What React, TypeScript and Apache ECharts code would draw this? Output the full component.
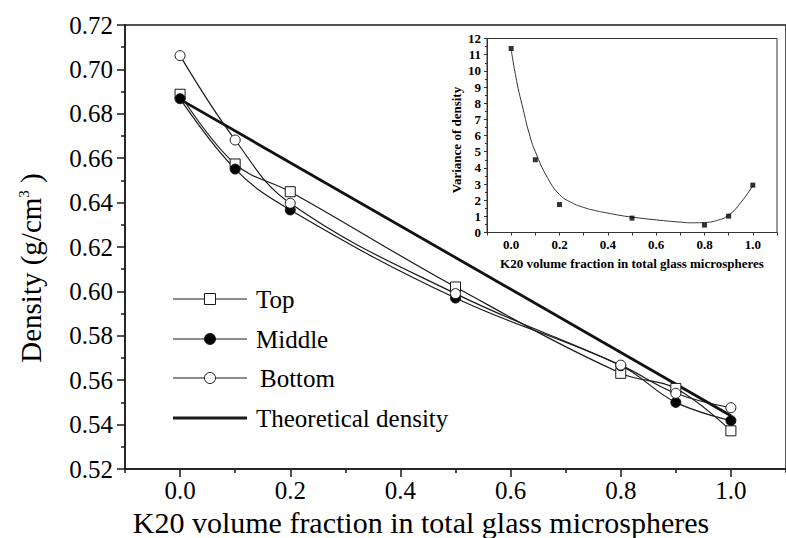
import React, { useEffect, useRef } from "react";
import * as echarts from "echarts";

// ---- Main chart data ----
const fractions = [0, 0.1, 0.2, 0.5, 0.8, 0.9, 1.0];
const topDensity = [0.6888, 0.6574, 0.6449, 0.602, 0.5631, 0.5563, 0.5372];
const middleDensity = [0.6868, 0.6551, 0.6367, 0.597, 0.5665, 0.55, 0.5418];
const bottomDensity = [0.7062, 0.6682, 0.6397, 0.599, 0.5668, 0.5541, 0.5476];
const theoFractions = [0, 1.0];
const theoDensity = [0.6865, 0.544];

const mainXLabels = [0, 0.2, 0.4, 0.6, 0.8, 1.0];
const mainXMinorTicks = [-0.1, 0.1, 0.3, 0.5, 0.7, 0.9, 1.1];

// ---- Inset data ----
const varFractions = [0, 0.1, 0.2, 0.5, 0.8, 0.9, 1.0];
const varValues = [11.38, 4.5, 1.73, 0.89, 0.46, 1.01, 2.93];
const fitFractions = [0, 0.025, 0.05, 0.075, 0.1, 0.15, 0.2, 0.25, 0.3, 0.35, 0.4, 0.45, 0.5, 0.6, 0.7, 0.75, 0.8, 0.85, 0.9, 0.95, 1.0];
const fitValues = [11.3, 9.2, 7.6, 6.1, 5.0, 3.4, 2.35, 1.85, 1.55, 1.35, 1.2, 1.06, 0.95, 0.78, 0.64, 0.6, 0.62, 0.74, 1.08, 1.85, 2.9];

const FONT = "Liberation Serif";
const INK = "#1a1a1a";

const pairs = (xs: number[], ys: number[]) => xs.map((x, i) => [x, ys[i]]);

export default function App() {
  const ref = useRef<HTMLDivElement>(null);

  useEffect(() => {
    if (!ref.current) return;
    const chart = echarts.init(ref.current, undefined, { renderer: "svg" });

    const lineBase = { color: INK, width: 1.2 };

    const legendItems = [
      { name: "Top", y: 299, symbol: "rect", fill: "#fff", tx: 256 },
      { name: "Middle", y: 339, symbol: "circle", fill: "#000", tx: 256 },
      { name: "Bottom", y: 378, symbol: "circle", fill: "#fff", tx: 260 },
      { name: "Theoretical density", y: 418, symbol: "none", fill: "", tx: 256 },
    ];

    const graphics: any[] = [];
    legendItems.forEach((it) => {
      graphics.push({
        type: "line",
        shape: { x1: 173, y1: it.y, x2: 247, y2: it.y },
        style: { stroke: INK, lineWidth: it.symbol === "none" ? 3 : 1.2 },
        z: 10,
      });
      if (it.symbol === "rect") {
        graphics.push({
          type: "rect",
          shape: { x: 204.5, y: it.y - 5.5, width: 11, height: 11 },
          style: { fill: it.fill, stroke: INK, lineWidth: 1 },
          z: 11,
        });
      } else if (it.symbol === "circle") {
        graphics.push({
          type: "circle",
          shape: { cx: 210, cy: it.y, r: 5.5 },
          style: { fill: it.fill, stroke: INK, lineWidth: 1 },
          z: 11,
        });
      }
      graphics.push({
        type: "text",
        x: it.tx,
        y: it.y,
        style: {
          text: it.name,
          fontSize: 25,
          fontFamily: FONT,
          fill: "#000",
          verticalAlign: "middle",
          align: "left",
        },
        z: 11,
      });
    });

    // Y axis title (rotated)
    graphics.push({
      type: "text",
      x: 31,
      y: 268,
      rotation: Math.PI / 2,
      style: {
        text: "{a|Density (g/cm}{s|3}{a| )}",
        rich: {
          a: { fontSize: 29, fontFamily: FONT, fill: "#000", verticalAlign: "bottom" },
          s: { fontSize: 15, fontFamily: FONT, fill: "#000", verticalAlign: "top", padding: [0, 0, 14, 0] },
        },
        align: "center",
        verticalAlign: "middle",
      },
      z: 10,
    });

    // X axis title
    graphics.push({
      type: "text",
      x: 421,
      y: 522,
      style: {
        text: "K20 volume fraction in total glass microspheres",
        fontSize: 30,
        fontFamily: FONT,
        fill: "#000",
        align: "center",
        verticalAlign: "middle",
      },
      z: 10,
    });

    // Inset titles
    graphics.push({
      type: "text",
      x: 456,
      y: 140,
      rotation: Math.PI / 2,
      style: {
        text: "Variance of density",
        fontSize: 13,
        fontWeight: "bold",
        fontFamily: FONT,
        fill: "#000",
        align: "center",
        verticalAlign: "middle",
      },
      z: 20,
    });
    graphics.push({
      type: "text",
      x: 632,
      y: 263,
      style: {
        text: "K20 volume fraction in total glass microspheres",
        fontSize: 13,
        fontWeight: "bold",
        fontFamily: FONT,
        fill: "#000",
        align: "center",
        verticalAlign: "middle",
      },
      z: 20,
    });

    const option: any = {
      animation: false,
      backgroundColor: "#fff",
      textStyle: { fontFamily: FONT },
      grid: [
        {
          left: 125,
          top: 25,
          width: 668,
          height: 444,
          show: true,
          borderColor: INK,
          borderWidth: 1.5,
          backgroundColor: "transparent",
        },
        {
          left: 487,
          top: 38.5,
          width: 290,
          height: 194,
          show: true,
          borderColor: "#333",
          borderWidth: 1,
          backgroundColor: "#fff",
          z: 5,
        },
      ],
      xAxis: [
        {
          type: "value",
          gridIndex: 0,
          min: -0.1,
          max: 1.1,
          position: "bottom",
          splitLine: { show: false },
          axisLine: { onZero: false, lineStyle: { color: INK, width: 1.5 } },
          axisTick: { customValues: mainXLabels, length: 8, lineStyle: { color: INK, width: 1.5 } },
          axisLabel: {
            customValues: mainXLabels,
            formatter: (v: number) => v.toFixed(1),
            fontFamily: FONT,
            fontSize: 25,
            color: "#000",
            margin: 9,
          },
        },
        {
          type: "value",
          gridIndex: 0,
          min: -0.1,
          max: 1.1,
          position: "bottom",
          splitLine: { show: false },
          axisLine: { show: false, onZero: false },
          axisTick: { customValues: mainXMinorTicks, length: 4, lineStyle: { color: INK, width: 1.5 } },
          axisLabel: { show: false },
        },
        {
          type: "value",
          gridIndex: 1,
          min: -0.1,
          max: 1.1,
          interval: 0.1,
          position: "bottom",
          z: 6,
          splitLine: { show: false },
          axisLine: { onZero: false, lineStyle: { color: "#333", width: 1 } },
          axisTick: { length: 3, lineStyle: { color: "#333" } },
          axisLabel: {
            formatter: (v: number) => {
              const k = Math.round(v * 10);
              return k >= 0 && k <= 10 && k % 2 === 0 ? (k / 10).toFixed(1) : "";
            },
            fontFamily: FONT,
            fontWeight: "bold",
            fontSize: 13,
            color: "#000",
            margin: 5,
          },
        },
      ],
      yAxis: [
        {
          type: "value",
          gridIndex: 0,
          min: 0.52,
          max: 0.72,
          interval: 0.02,
          splitLine: { show: false },
          axisLine: { show: true, onZero: false, lineStyle: { color: INK, width: 1.5 } },
          axisTick: { show: true, length: 8, lineStyle: { color: INK, width: 1.5 } },
          minorTick: { show: true, splitNumber: 2, length: 4, lineStyle: { color: INK, width: 1.5 } },
          axisLabel: {
            formatter: (v: number) => v.toFixed(2),
            fontFamily: FONT,
            fontSize: 25,
            color: "#000",
            margin: 12,
          },
        },
        {
          type: "value",
          gridIndex: 1,
          min: 0,
          max: 12,
          interval: 1,
          z: 6,
          splitLine: { show: false },
          axisLine: { show: true, onZero: false, lineStyle: { color: "#333", width: 1 } },
          axisTick: { show: true, length: 3, lineStyle: { color: "#333" } },
          minorTick: { show: true, splitNumber: 2, length: 2, lineStyle: { color: "#333" } },
          axisLabel: {
            fontFamily: FONT,
            fontWeight: "bold",
            fontSize: 13,
            color: "#000",
            margin: 6,
          },
        },
      ],
      series: [
        {
          name: "Theoretical density",
          type: "line",
          xAxisIndex: 0,
          yAxisIndex: 0,
          data: pairs(theoFractions, theoDensity),
          symbol: "none",
          lineStyle: { color: "#111", width: 2.8 },
          z: 2,
        },
        {
          name: "Top",
          type: "line",
          xAxisIndex: 0,
          yAxisIndex: 0,
          data: pairs(fractions, topDensity),
          smooth: 0.4,
          symbol: "rect",
          symbolSize: 10,
          showAllSymbol: true,
          lineStyle: lineBase,
          itemStyle: { color: "#fff", borderColor: INK, borderWidth: 1 },
          z: 3,
        },
        {
          name: "Middle",
          type: "line",
          xAxisIndex: 0,
          yAxisIndex: 0,
          data: pairs(fractions, middleDensity),
          smooth: 0.4,
          symbol: "circle",
          symbolSize: 10,
          showAllSymbol: true,
          lineStyle: lineBase,
          itemStyle: { color: "#000", borderColor: INK, borderWidth: 1 },
          z: 3,
        },
        {
          name: "Bottom",
          type: "line",
          xAxisIndex: 0,
          yAxisIndex: 0,
          data: pairs(fractions, bottomDensity),
          smooth: 0.4,
          symbol: "circle",
          symbolSize: 10,
          showAllSymbol: true,
          lineStyle: lineBase,
          itemStyle: { color: "#fff", borderColor: INK, borderWidth: 1 },
          z: 3,
        },
        {
          name: "Fit",
          type: "line",
          xAxisIndex: 2,
          yAxisIndex: 1,
          data: pairs(fitFractions, fitValues),
          smooth: true,
          symbol: "none",
          lineStyle: { color: "#333", width: 1 },
          z: 7,
        },
        {
          name: "Variance of density",
          type: "scatter",
          xAxisIndex: 2,
          yAxisIndex: 1,
          data: pairs(varFractions, varValues),
          symbol: "rect",
          symbolSize: 5,
          itemStyle: { color: "#000" },
          z: 8,
        },
      ],
      graphic: graphics,
    };

    chart.setOption(option);
    return () => chart.dispose();
  }, []);

  return (
    <div
      ref={ref}
      style={{ position: "fixed", left: 0, top: 0, width: 786, height: 538, background: "#fff" }}
    />
  );
}
